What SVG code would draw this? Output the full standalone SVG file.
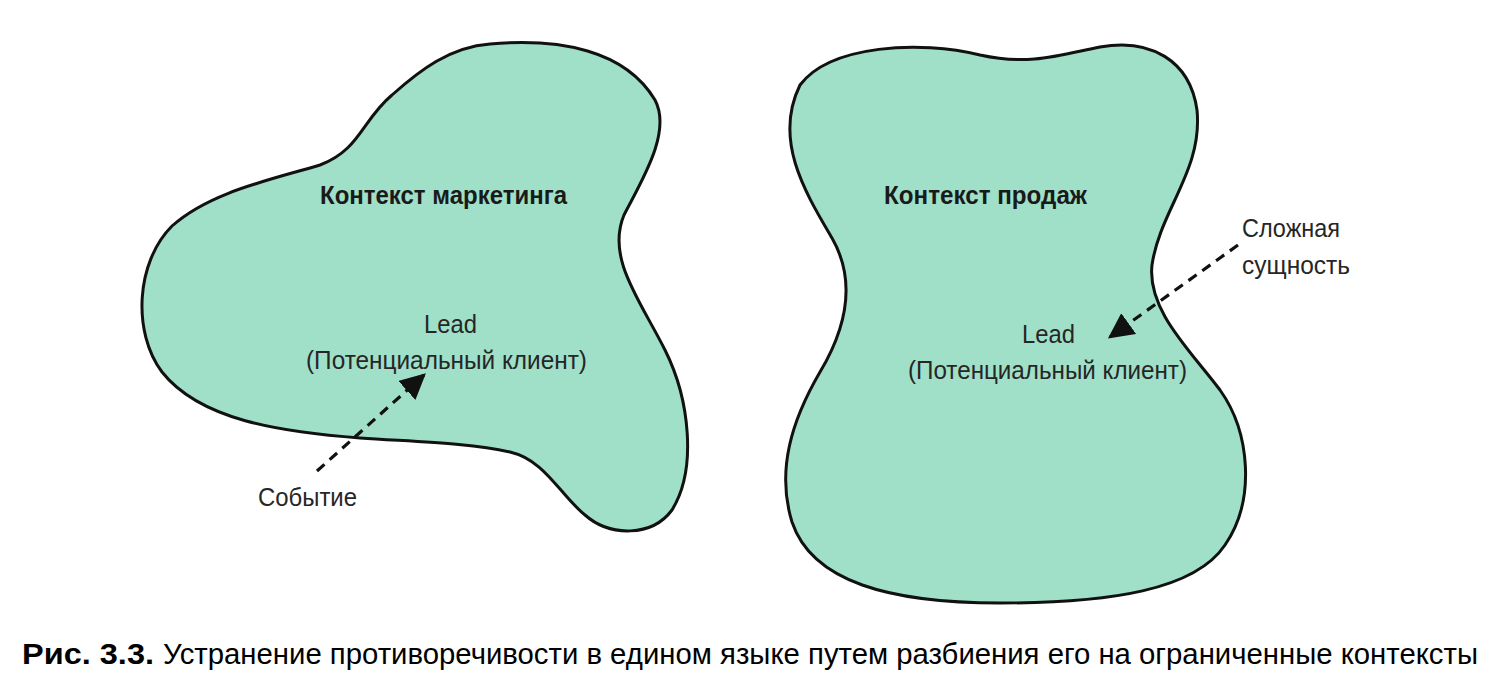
<svg xmlns="http://www.w3.org/2000/svg" width="1508" height="690" viewBox="0 0 1508 690">
<defs>
<style>
.blob{fill:#a0e0c9;stroke:#111;stroke-width:3;stroke-linejoin:round}
.t{font-family:"Liberation Sans",Arial,sans-serif;fill:#262626;font-size:26px}
.b{font-weight:bold;fill:#1a1a1a}
.cap{font-family:"Liberation Sans",Arial,sans-serif;fill:#000;font-size:29px}
.dash{fill:none;stroke:#111;stroke-width:3.2;stroke-dasharray:10 7}
</style>
<marker id="ah" viewBox="0 0 10 10" refX="9" refY="5" markerWidth="8" markerHeight="8" markerUnits="strokeWidth" orient="auto">
<path d="M0,0 L10,5 L0,10 Z" fill="#111"/>
</marker>
</defs>
<rect width="1508" height="690" fill="#fff"/>
<g id="marketing">
<path class="blob" d="M490,44 C560,38 625,50 655,100 C672,132 642,180 624,215 C606,258 640,300 665,350 C690,400 697,470 672,510 C652,537 610,537 585,515 C560,495 545,460 510,452 C470,443 420,442 360,438 C280,432 200,420 162,372 C132,332 136,262 172,226 C210,192 270,180 320,165 C360,150 362,120 392,95 C420,70 450,47 490,44 Z"/>
<text class="t b" x="320" y="204" textLength="247" lengthAdjust="spacingAndGlyphs">Контекст маркетинга</text>
<text class="t" x="424" y="333" textLength="53" lengthAdjust="spacingAndGlyphs">Lead</text>
<text class="t" x="306" y="369" textLength="281" lengthAdjust="spacingAndGlyphs">(Потенциальный клиент)</text>
</g>
<g id="sales">
<path class="blob" d="M800,85 C830,45 920,40 980,55 C1030,66 1060,55 1100,47 C1150,38 1190,60 1197,110 C1203,170 1160,210 1152,265 C1147,310 1190,350 1220,390 C1250,432 1256,500 1225,545 C1195,590 1110,603 1000,603 C890,603 812,582 792,522 C776,470 792,420 820,372 C848,325 856,280 832,238 C805,192 773,140 800,85 Z"/>
<text class="t b" x="884" y="204" textLength="203" lengthAdjust="spacingAndGlyphs">Контекст продаж</text>
<text class="t" x="1022" y="343" textLength="53" lengthAdjust="spacingAndGlyphs">Lead</text>
<text class="t" x="908" y="379" textLength="279" lengthAdjust="spacingAndGlyphs">(Потенциальный клиент)</text>
</g>
<g id="event">
<text class="t" x="258" y="506" textLength="99" lengthAdjust="spacingAndGlyphs">Событие</text>
</g>
<g id="complex">
<text class="t" x="1242" y="237" textLength="98" lengthAdjust="spacingAndGlyphs">Сложная</text>
<text class="t" x="1242" y="274" textLength="108" lengthAdjust="spacingAndGlyphs">сущность</text>
</g>
<g id="connectors">
<line class="dash" x1="317" y1="471" x2="424" y2="375" marker-end="url(#ah)"/>
<line class="dash" x1="1238" y1="245" x2="1110" y2="337" marker-end="url(#ah)"/>
</g>
<g id="caption">
<text class="cap" x="22" y="664" font-weight="bold" textLength="132" lengthAdjust="spacingAndGlyphs">Рис. 3.3.</text>
<text class="cap" x="163" y="664" textLength="1315" lengthAdjust="spacingAndGlyphs">Устранение противоречивости в едином языке путем разбиения его на ограниченные контексты</text>
</g>
</svg>
